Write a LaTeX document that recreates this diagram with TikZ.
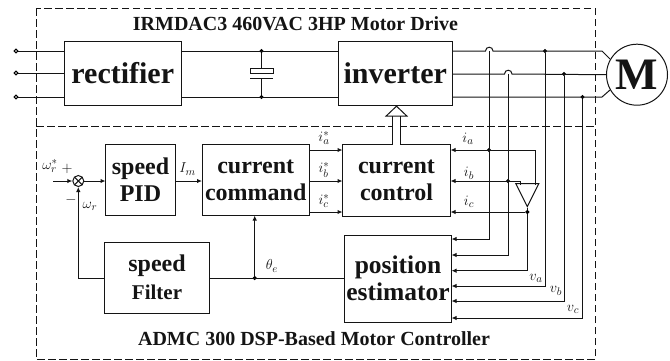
\documentclass[tikz,border=0pt]{standalone}
\usepackage{amsmath}
\usepackage{fontspec}
\setmainfont{Liberation Serif}
\usetikzlibrary{positioning}
\usetikzlibrary{shapes,shapes.geometric,calc,arrows.meta}
\tikzset{
	-{Latex[length=5pt,width=4.5pt]},auto,
	wire/.style = {-},
	block/.style = {rectangle, draw, inner sep=0pt, outer sep=0pt, align=center, font=\bfseries\fontsize{24}{27}\selectfont},
	bigblock/.style = {block, minimum width=116.5pt, minimum height=64pt, font=\bfseries\fontsize{30}{32}\selectfont},
	region/.style = {-, dash pattern=on 7.5pt off 3.5pt},
	title/.style = {font=\bfseries\fontsize{20}{22}\selectfont, inner sep=0pt},
	sig/.style = {inner sep=0pt, font=\fontsize{15}{17}\selectfont},
	point/.style = {circle, draw=black, inner sep=0pt, minimum size=3pt, fill=black, node contents={}},
	port/.style = {circle, draw=black, inner sep=0pt, minimum size=3.6pt, fill=white, node contents={}},
}
\begin{document}
\begin{tikzpicture}[x=1pt, y=-1pt, line width=1pt, color=black!92]
	\useasboundingbox (0,0) rectangle (670,360);
	% regions
	\draw[region] (36,8) rectangle (595,359);
	\draw[region] (36,126) -- (595,126);
	\node (drive) [title] at (295.5,24) {IRMDAC3 460VAC 3HP Motor Drive};
	\node (dsp) [title] at (314,339) {ADMC 300 DSP-Based Motor Controller};
	% power stage
	\node (rectifier) [bigblock] at (122.75,73.5) {rectifier};
	\node (inverter) [bigblock, minimum width=114.5pt] at (395.25,73.5) {inverter};
	\node (motor) [circle, draw, minimum size=61pt, inner sep=0pt, font=\bfseries\fontsize{45}{45}\selectfont] at (637,74.7) {M};
	\node (p1) at (16,51) [port];
	\node (p2) at (16,73) [port];
	\node (p3) at (16,97) [port];
	\node (dcp) at (261.5,51) [point];
	\node (dcm) at (261.5,97) [point];
	\node (plate) [rectangle, draw, minimum width=23pt, minimum height=4.5pt, inner sep=0pt] at (261.5,70.75) {};
	\coordinate (platel) at (250,78);
	\coordinate (plater) at (273,78);
	\coordinate (capm) at (261.5,78);
	\path[wire] (p1) edge (rectifier.west |- p1);
	\path[wire] (p2) edge (rectifier.west |- p2);
	\path[wire] (p3) edge (rectifier.west |- p3);
	\path[wire] (rectifier.east |- dcp) edge (inverter.west |- dcp);
	\path[wire] (rectifier.east |- dcm) edge (inverter.west |- dcm);
	\path[wire] (dcp) edge (plate);
	\path[wire] (platel) edge (plater);
	\path[wire] (capm) edge (dcm);
	% motor phases
	\node (va) at (545,51) [point];
	\node (vb) at (564,74) [point];
	\node (vc) at (582.5,97) [point];
	\draw[wire] (inverter.east |- va) -- (485.5,51) .. controls (485.5,46) and (493,46) .. (493,51) -- (602,51) -- (610,59);
	\draw[wire] (inverter.east |- vb) -- (504.5,74) .. controls (504.5,69) and (512,69) .. (512,74) -- (motor.west);
	\draw[wire] (inverter.east |- vc) -- (602,97) -- (610,90);
	% controller
	\node (sum) [circle, draw, minimum size=11pt, inner sep=0pt, path picture={
		\draw[wire] (path picture bounding box.north west) -- (path picture bounding box.south east);
		\draw[wire] (path picture bounding box.north east) -- (path picture bounding box.south west);}] at (78.3,181) {};
	\coordinate (in) at (53,181);
	\node (pid) [block, minimum width=70pt, minimum height=71pt] at (140.5,180) {speed\\PID};
	\node (command) [block, minimum width=107.5pt, minimum height=71pt, right = 26.5pt of pid] {current\\command};
	\node (control) [block, minimum width=108pt, minimum height=71.5pt] at (396.5,180.25) {current\\control};
	\node (filter) [block, minimum width=105pt, minimum height=71pt, align=center] at (157,277.5) {speed\\[1pt]{\fontsize{21}{24}\selectfont Filter}};
	\node (estimator) [block, minimum width=107pt, minimum height=87pt, font=\bfseries\fontsize{25.5}{27}\selectfont] at (398,278.5) {position\\estimator};
	\node (theta) at (254.7,278) [point];
	\path (in) edge (sum);
	\path (sum) edge (pid.west |- sum);
	\path (pid.east |- sum) edge (command.west |- sum);
	\path (command.east |- 0,150) edge (control.west |- 0,150);
	\path (command.east |- 0,181) edge (control.west |- 0,181);
	\path (command.east |- 0,212) edge (control.west |- 0,212);
	\path (theta) edge (theta |- command.south);
	\draw (filter.west |- theta) -- (sum |- theta) -- (sum);
	\path[wire] (filter.east |- theta) edge (estimator.west |- theta);
	\draw[double, double distance=6.5pt, -{Triangle[open,length=11pt,width=23pt]}] (control.north) -- (control.north |- inverter.south);
	% sensed signals
	\node (gain) [isosceles triangle, draw, shape border rotate=270, isosceles triangle stretches, minimum width=23pt, minimum height=23pt, inner sep=0pt, anchor=apex] at (527.3,208) {};
	\node (ia) at (489,150) [point];
	\node (ib) at (508,181) [point];
	\node (ic) at (527.3,212) [point];
	\draw (535,185) -- (535,150) -- (control.east |- ia);
	\draw (520,185) -- (520,181) -- (control.east |- ib);
	\path (ic) edge (control.east |- ic);
	\path[wire] (gain.apex) edge (ic);
	\draw (489,51) -- (489,239) -- (estimator.east |- 0,239);
	\draw (508,74) -- (508,255) -- (estimator.east |- 0,255);
	\draw (ic) -- (527.3,270.7) -- (estimator.east |- 0,270.7);
	\draw (va) -- (545,286) -- (estimator.east |- 0,286);
	\draw (vb) -- (564,301) -- (estimator.east |- 0,301);
	\draw (vc) -- (582.5,318) -- (estimator.east |- 0,318);
	% labels
	\node (lwref) [sig] at (50,166) {$\omega_r^{*}$};
	\node (lplus) [sig] at (67,169) {$+$};
	\node (lminus) [sig] at (71,200) {$-$};
	\node (lwr) [sig] at (90,206) {$\omega_r$};
	\node (lim) [sig] at (187.5,169) {$I_m$};
	\node (liar) [sig] at (324,138) {$i_a^{*}$};
	\node (libr) [sig] at (324,170) {$i_b^{*}$};
	\node (licr) [sig] at (324,201) {$i_c^{*}$};
	\node (lia) [sig] at (468,139) {$i_a$};
	\node (lib) [sig] at (469,173) {$i_b$};
	\node (lic) [sig] at (469,202) {$i_c$};
	\node (lva) [sig] at (536,278) {$v_a$};
	\node (lvb) [sig] at (556,291) {$v_b$};
	\node (lvc) [sig] at (573,309) {$v_c$};
	\node (lth) [sig] at (272,266) {$\theta_e$};
\end{tikzpicture}
\end{document}
